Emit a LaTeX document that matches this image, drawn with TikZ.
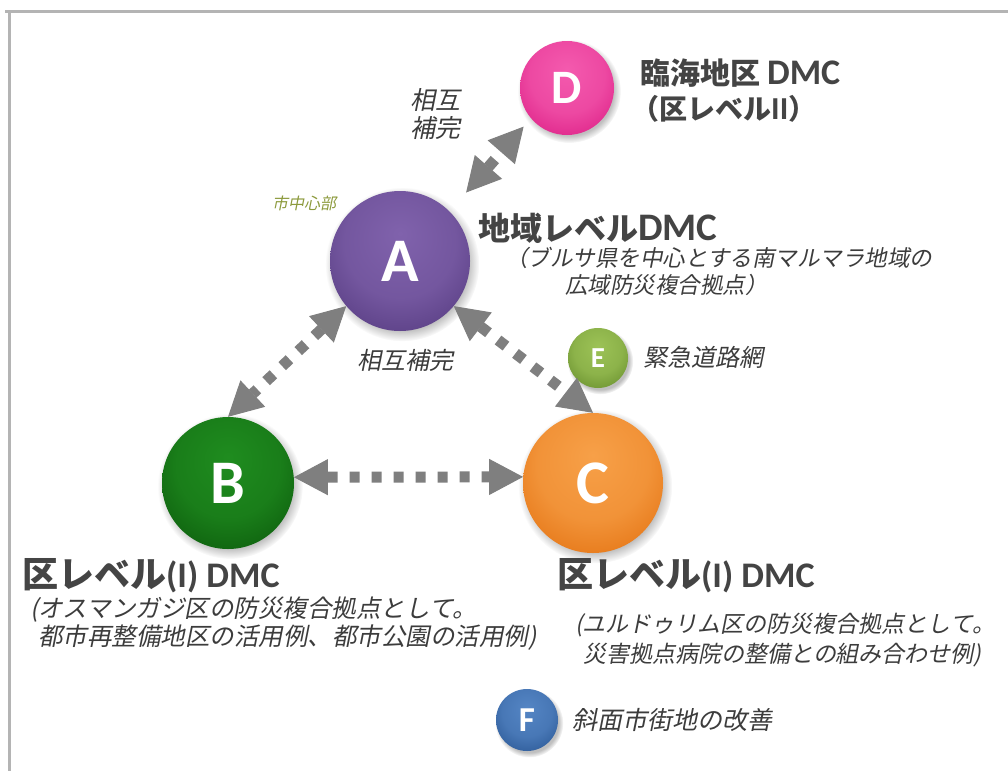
\documentclass[tikz,border=0pt]{standalone}
\usepackage{fontspec}
\usetikzlibrary{arrows.meta,shadows}
\newfontfamily\jp{Noto Sans CJK JP}
\newfontfamily\jpit[FakeSlant=0.2]{Noto Sans CJK JP}
\newfontfamily\lat{Carlito}
\definecolor{txt}{HTML}{3C3C3C}
\definecolor{ttltxt}{HTML}{444444}
\definecolor{olivetxt}{HTML}{8C9A3C}
\definecolor{framegray}{HTML}{B4B4B4}
\definecolor{arrowgray}{HTML}{7F7F7F}
\definecolor{Din}{HTML}{F45AAE}\definecolor{Dout}{HTML}{D8147E}
\definecolor{Ain}{HTML}{8062AC}\definecolor{Aout}{HTML}{4E3478}
\definecolor{Bin}{HTML}{1F8C1F}\definecolor{Bout}{HTML}{095209}
\definecolor{Cin}{HTML}{F7A048}\definecolor{Cout}{HTML}{E06A08}
\definecolor{Ein}{HTML}{9CC256}\definecolor{Eout}{HTML}{5E8526}
\definecolor{Fin}{HTML}{5485C4}\definecolor{Fout}{HTML}{234F8C}
\newcommand\mkball[3]{\pgfdeclareradialshading{ball#1}{\pgfpoint{0bp}{10bp}}{color(0bp)=(#2); color(20bp)=(#2!75!#3); color(40bp)=(#3); color(60bp)=(#3!85!black)}}
\mkball{D}{Din}{Dout}
\mkball{A}{Ain}{Aout}
\mkball{B}{Bin}{Bout}
\mkball{C}{Cin}{Cout}
\mkball{E}{Ein}{Eout}
\mkball{F}{Fin}{Fout}
\tikzset{
  ball/.style={circle, inner sep=0pt, text=white, font=\lat\bfseries,
    circular drop shadow={shadow xshift=2pt, shadow yshift=-3pt, opacity=0.25, fill=black}},
  dmcarrow/.style={draw=arrowgray, line width=11pt, dash pattern=on 10pt off 12pt,
    {Triangle[length=34pt,width=36pt,line width=1pt]}-{Triangle[length=34pt,width=36pt,line width=1pt]}},
  ttl/.style={anchor=west, inner sep=0pt, text=ttltxt, font=\jp\bfseries},
  sub/.style={anchor=west, inner sep=0pt, text=txt, font=\jpit\fontsize{23pt}{26pt}\selectfont},
}
\begin{document}
\begin{tikzpicture}[x=1pt,y=-1pt]
\useasboundingbox (0,0) rectangle (1008,771);
\fill[white] (0,0) rectangle (1008,771);
\draw[framegray, line width=3pt] (5,11) -- (1008,11);
\draw[framegray, line width=3pt] (9,11) -- (9,771);

\node[ball, shading=ballD, minimum size=94pt, font=\lat\bfseries\fontsize{48pt}{48pt}\selectfont] (D) at (567,88) {D};
\node[ball, shading=ballA, minimum size=140pt, font=\lat\bfseries\fontsize{62pt}{62pt}\selectfont] (A) at (400,261) {A};
\node[ball, shading=ballB, minimum size=132pt, font=\lat\bfseries\fontsize{62pt}{62pt}\selectfont] (B) at (228,483) {B};
\node[ball, shading=ballC, minimum size=140pt, font=\lat\bfseries\fontsize{62pt}{62pt}\selectfont] (C) at (593,483) {C};
\node[ball, shading=ballE, minimum size=60pt, font=\lat\bfseries\fontsize{29pt}{29pt}\selectfont] (E) at (598,358) {E};
\node[ball, shading=ballF, minimum size=62pt, font=\lat\bfseries\fontsize{35pt}{35pt}\selectfont] (F) at (527,720) {F};

\draw[dmcarrow, shorten <=25pt, shorten >=11pt] (A.45) -- (D.220);
\draw[dmcarrow] (A.220) -- (B.90);
\draw[dmcarrow] (A.-40) -- (C.90);
\draw[dmcarrow] (B.5) -- (C.175);

\node[ttl, font=\jp\bfseries\fontsize{30pt}{34pt}\selectfont] (tD1) at (640,73) {臨海地区 {\lat\bfseries\fontsize{36pt}{36pt}\selectfont DMC}};
\node[ttl, font=\jp\bfseries\fontsize{28pt}{30pt}\selectfont] (tD2) at (631,109) {（区レベル{\lat\bfseries\fontsize{32pt}{32pt}\selectfont II}）};
\node[sub, font=\jpit\fontsize{25pt}{28pt}\selectfont] (cAD1) at (410,100) {相互};
\node[sub, font=\jpit\fontsize{25pt}{28pt}\selectfont] (cAD2) at (410,128) {補完};
\node[sub, text=olivetxt, font=\jpit\fontsize{16pt}{18pt}\selectfont] (city) at (272,203) {市中心部};
\node[ttl, font=\jp\bfseries\fontsize{32pt}{34pt}\selectfont] (tA) at (478,228) {地域レベル{\lat\bfseries\fontsize{39pt}{39pt}\selectfont DMC}};
\node[sub, font=\jpit\fontsize{22.5pt}{24pt}\selectfont] (sA1) at (505,258) {（ブルサ県を中心とする南マルマラ地域の};
\node[sub, font=\jpit\fontsize{22.5pt}{24pt}\selectfont] (sA2) at (565,285) {広域防災複合拠点）};
\node[sub, font=\jpit\fontsize{24pt}{26pt}\selectfont] (cABC) at (357,360) {相互補完};
\node[sub, font=\jpit\fontsize{24pt}{26pt}\selectfont] (tE) at (643,357) {緊急道路網};
\node[ttl, font=\jp\bfseries\fontsize{36pt}{38pt}\selectfont] (tB) at (22,576) {区レベル{\lat\bfseries (I) DMC}};
\node[sub, font=\jpit\fontsize{24.5pt}{26pt}\selectfont] (sB1) at (30,610) {(オスマンガジ区の防災複合拠点として。};
\node[sub, font=\jpit\fontsize{24.5pt}{26pt}\selectfont] (sB2) at (38,638) {都市再整備地区の活用例、都市公園の活用例)};
\node[ttl, font=\jp\bfseries\fontsize{36pt}{38pt}\selectfont] (tC) at (557,576) {区レベル{\lat\bfseries (I) DMC}};
\node[sub] (sC1) at (575,625) {(ユルドゥリム区の防災複合拠点として。};
\node[sub] (sC2) at (583,655) {災害拠点病院の整備との組み合わせ例)};
\node[sub, font=\jpit\fontsize{25pt}{28pt}\selectfont] (tF) at (572,720) {斜面市街地の改善};
\end{tikzpicture}
\end{document}
